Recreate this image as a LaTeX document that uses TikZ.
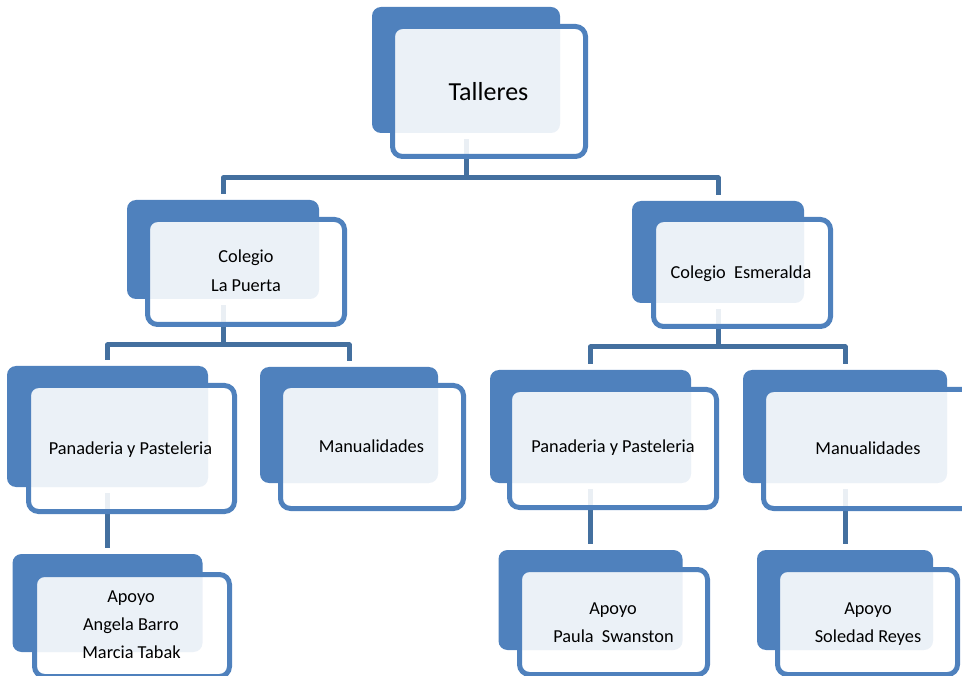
\documentclass[tikz,border=0pt]{standalone}
\usepackage{fontspec}
\setmainfont{Carlito}
\definecolor{dkblue}{HTML}{4F81BD}
\definecolor{lnblue}{HTML}{44709F}
\begin{document}
\begin{tikzpicture}[x=1pt,y=-1pt,
  darkbox/.style={fill=dkblue, rounded corners=9pt, inner sep=0pt, draw=none},
  framebox/.style={draw=dkblue, line width=5pt, fill=white, fill opacity=0.89, rounded corners=10pt, inner sep=0pt},
  conn/.style={draw=lnblue, line width=5pt, line join=round},
  lbl/.style={anchor=base, inner sep=0pt, text=black, font=\fontsize{18.3}{29}\selectfont},
  big/.style={anchor=base, inner sep=0pt, text=black, font=\fontsize{26}{30}\selectfont}]
\useasboundingbox (0,0) rectangle (962,676);
\clip (0,0) rectangle (962,676);

% back (dark) boxes
\path
  (466,70)    node[darkbox, minimum width=188, minimum height=126] (d1) {}
  (223,249.5) node[darkbox, minimum width=192, minimum height=99]  (d2) {}
  (718,252)   node[darkbox, minimum width=172, minimum height=102] (d3) {}
  (107.5,426.5) node[darkbox, minimum width=201, minimum height=121] (d4) {}
  (349,425)   node[darkbox, minimum width=178, minimum height=116] (d5) {}
  (590.5,426.5) node[darkbox, minimum width=201, minimum height=113] (d6) {}
  (845,426.5) node[darkbox, minimum width=204, minimum height=113] (d7) {}
  (107.5,603) node[darkbox, minimum width=190, minimum height=98]  (d8) {}
  (590.5,600) node[darkbox, minimum width=184, minimum height=100] (d9) {}
  (845,600)   node[darkbox, minimum width=176, minimum height=100] (d10) {};

% connectors
\coordinate (bar1) at (466,178);
\coordinate (bar2) at (223,345);
\coordinate (bar3) at (718,347);
\draw[conn] ([yshift=-6pt]d1.south) -- (bar1);
\draw[conn] ([yshift=6pt]d2.north) |- (bar1) -| ([yshift=6pt]d3.north);
\draw[conn] ([yshift=-6pt]d2.south) -- (bar2);
\draw[conn] ([yshift=6pt]d4.north) |- (bar2) -| ([yshift=6pt]d5.north);
\draw[conn] ([yshift=-6pt]d3.south) -- (bar3);
\draw[conn] ([yshift=6pt]d6.north) |- (bar3) -| ([yshift=6pt]d7.north);
\draw[conn] ([yshift=-6pt]d4.south) -- ([yshift=6pt]d8.north);
\draw[conn] ([yshift=-6pt]d6.south) -- ([yshift=6pt]d9.north);
\draw[conn] ([yshift=-6pt]d7.south) -- ([yshift=6pt]d10.north);

% front frames
\path
  (489,91.5)  node[framebox, minimum width=193, minimum height=130] (f1) {}
  (246,272)   node[framebox, minimum width=197, minimum height=105] (f2) {}
  (742,273)   node[framebox, minimum width=177, minimum height=107] (f3) {}
  (131.5,448.5) node[framebox, minimum width=206, minimum height=126] (f4) {}
  (372,447)   node[framebox, minimum width=183, minimum height=123] (f5) {}
  (613,448.5) node[framebox, minimum width=207, minimum height=118] (f6) {}
  (868,449)   node[framebox, minimum width=209, minimum height=119] (f7) {}
  (132,625.5) node[framebox, minimum width=195, minimum height=102] (f8) {}
  (613.5,622) node[framebox, minimum width=188, minimum height=105] (f9) {}
  (867.5,622) node[framebox, minimum width=180, minimum height=105] (f10) {};

% labels
\node[big] (t1) at (488.5,100.5) {Talleres};
\node[lbl] (t2a) at (246,263) {Colegio};
\node[lbl] (t2b) at (246,292) {La Puerta};
\node[lbl] (t3) at (741,279) {Colegio\ \ Esmeralda};
\node[lbl] (t4) at (130.5,454) {Panaderia y Pasteleria};
\node[lbl] (t5) at (371.5,453) {Manualidades};
\node[lbl] (t6) at (613,453) {Panaderia y Pasteleria};
\node[lbl] (t7) at (868,454) {Manualidades};
\node[lbl] (t8a) at (131,602) {Apoyo};
\node[lbl] (t8b) at (131,630) {Angela Barro};
\node[lbl] (t8c) at (131.5,658) {Marcia Tabak};
\node[lbl] (t9a) at (613,614) {Apoyo};
\node[lbl] (t9b) at (613.5,642) {Paula\ \ Swanston};
\node[lbl] (t10a) at (868,614) {Apoyo};
\node[lbl] (t10b) at (868,642) {Soledad Reyes};
\end{tikzpicture}
\end{document}
